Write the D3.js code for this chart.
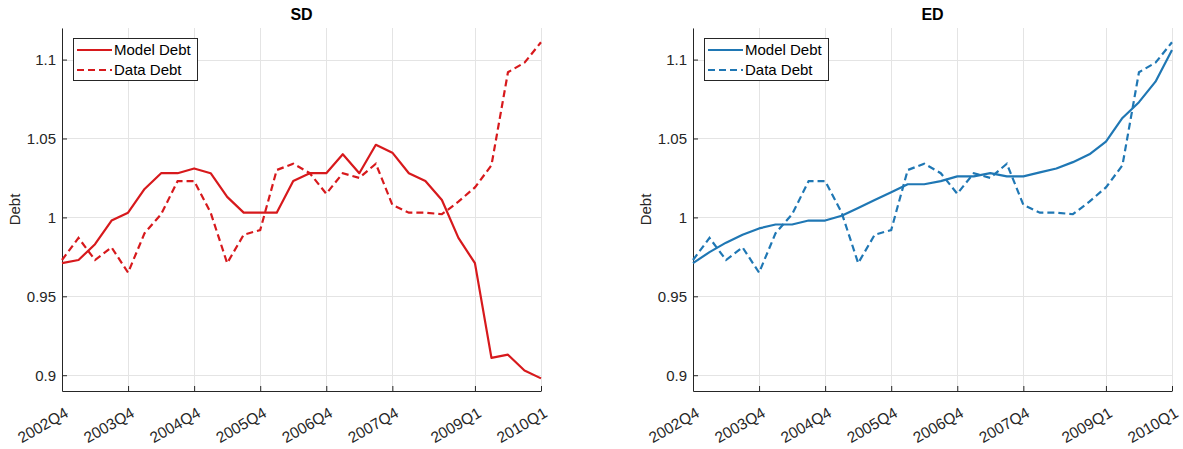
<!DOCTYPE html>
<html>
<head>
<meta charset="utf-8">
<script src="https://cdn.jsdelivr.net/npm/d3@7"></script>
<style>
  html, body { margin: 0; padding: 0; background: #fff; }
  svg { display: block; }
  text { font-family: "Liberation Sans", Arial, Helvetica, sans-serif; }
</style>
</head>
<body>
<svg id="chart" width="1183" height="449"></svg>
<script>
// Quarterly sample, 2002Q4 .. 2010Q1
const quarters = [
  "2002Q4","2003Q1","2003Q2","2003Q3","2003Q4","2004Q1","2004Q2","2004Q3",
  "2004Q4","2005Q1","2005Q2","2005Q3","2005Q4","2006Q1","2006Q2","2006Q3",
  "2006Q4","2007Q1","2007Q2","2007Q3","2007Q4","2008Q1","2008Q2","2008Q3",
  "2008Q4","2009Q1","2009Q2","2009Q3","2009Q4","2010Q1"
];

// Quarters that carry a tick label
const tickLabels = ["2002Q4","2003Q4","2004Q4","2005Q4","2006Q4","2007Q4","2009Q1","2010Q1"];
const yTicks = [0.9, 0.95, 1, 1.05, 1.1];

// Observed debt (same series in both panels)
const dataDebt = [
  0.973, 0.987, 0.973, 0.981, 0.965, 0.990, 1.002, 1.023, 1.023, 1.003,
  0.971, 0.989, 0.992, 1.030, 1.034, 1.028, 1.015, 1.028, 1.025, 1.034,
  1.008, 1.003, 1.003, 1.002, 1.010, 1.019, 1.033, 1.092, 1.098, 1.111
];

// Model-implied debt, SD economy
const modelDebtSD = [
  0.971, 0.973, 0.983, 0.998, 1.003, 1.018, 1.028, 1.028, 1.031, 1.028,
  1.013, 1.003, 1.003, 1.003, 1.023, 1.028, 1.028, 1.040, 1.028, 1.046,
  1.041, 1.028, 1.023, 1.011, 0.987, 0.971, 0.911, 0.913, 0.903, 0.898
];

// Model-implied debt, ED economy
const modelDebtED = [
  0.971, 0.978, 0.984, 0.989, 0.993, 0.9955, 0.9955, 0.998, 0.998, 1.001,
  1.006, 1.011, 1.016, 1.021, 1.021, 1.023, 1.026, 1.026, 1.028, 1.026,
  1.026, 1.0285, 1.031, 1.035, 1.040, 1.048, 1.063, 1.073, 1.086, 1.106
];

const panels = [
  { title: "SD", model: modelDebtSD, color: "#d7191c", left: 62 },
  { title: "ED", model: modelDebtED, color: "#1f77b4", left: 693 }
];

const svg = d3.select("#chart");
const plotW = 479, plotTop = 28, plotBottom = 391;
const axisColor = "#262626";
const gridColor = "#e4e4e4";

panels.forEach(p => {
  const g = svg.append("g");
  const x = d3.scalePoint().domain(quarters).range([p.left, p.left + plotW]);
  const y = d3.scaleLinear().domain([0.89, 1.12]).range([plotBottom, plotTop]);

  // grid
  g.append("g").selectAll("line").data(tickLabels).join("line")
    .attr("x1", d => Math.round(x(d)) + 0.5).attr("x2", d => Math.round(x(d)) + 0.5)
    .attr("y1", plotTop).attr("y2", plotBottom)
    .attr("stroke", gridColor).attr("stroke-width", 1);
  g.append("g").selectAll("line").data(yTicks).join("line")
    .attr("x1", p.left).attr("x2", p.left + plotW)
    .attr("y1", d => Math.round(y(d)) + 0.5).attr("y2", d => Math.round(y(d)) + 0.5)
    .attr("stroke", gridColor).attr("stroke-width", 1);

  // y axis (ticks point inward)
  const yAxis = d3.axisLeft(y).tickValues(yTicks).tickSizeInner(-5).tickSizeOuter(0)
    .tickFormat(d => String(d));
  const ya = g.append("g").attr("transform", `translate(${p.left},0)`).call(yAxis);
  ya.select(".domain").attr("stroke", axisColor);
  ya.selectAll(".tick line").attr("stroke", axisColor);
  ya.selectAll(".tick text").attr("fill", axisColor).attr("font-size", 15)
    .attr("font-family", "Liberation Sans, Arial, sans-serif").attr("x", -6);

  // x axis (ticks point inward, rotated labels)
  const xAxis = d3.axisBottom(x).tickValues(tickLabels).tickSizeInner(-5).tickSizeOuter(0);
  const xa = g.append("g").attr("transform", `translate(0,${plotBottom})`).call(xAxis);
  xa.select(".domain").attr("stroke", axisColor);
  xa.selectAll(".tick line").attr("stroke", axisColor);
  xa.selectAll(".tick text").attr("fill", axisColor).attr("font-size", 15.5)
    .attr("font-family", "Liberation Sans, Arial, sans-serif")
    .attr("text-anchor", "end").attr("dy", null).attr("y", 0)
    .attr("transform", "translate(7,25) rotate(-30)");

  // y label
  g.append("text").attr("transform", `translate(${p.left - 42},${(plotTop + plotBottom) / 2}) rotate(-90)`)
    .attr("text-anchor", "middle").attr("font-size", 15).attr("fill", axisColor)
    .text("Debt");

  // title
  g.append("text").attr("x", p.left + plotW / 2).attr("y", 20)
    .attr("text-anchor", "middle").attr("font-size", 16).attr("font-weight", "bold")
    .attr("fill", "#000").text(p.title);

  // series
  const line = d3.line().x((d, i) => x(quarters[i])).y(d => y(d));
  g.append("path").datum(p.model).attr("d", line)
    .attr("fill", "none").attr("stroke", p.color).attr("stroke-width", 2.2)
    .attr("stroke-linejoin", "round");
  g.append("path").datum(dataDebt).attr("d", line)
    .attr("fill", "none").attr("stroke", p.color).attr("stroke-width", 2.2)
    .attr("stroke-dasharray", "7,4");

  // legend
  const lx = p.left + 11, ly = 38;
  const lg = g.append("g");
  lg.append("rect").attr("x", lx + 0.5).attr("y", ly + 0.5).attr("width", 124).attr("height", 42)
    .attr("fill", "#fff").attr("stroke", axisColor).attr("stroke-width", 1);
  const entries = [{ label: "Model Debt", dash: null }, { label: "Data Debt", dash: "7,4" }];
  entries.forEach((e, j) => {
    const yy = ly + 12 + j * 20;
    lg.append("line").attr("x1", lx + 4).attr("x2", lx + 39).attr("y1", yy).attr("y2", yy)
      .attr("stroke", p.color).attr("stroke-width", 2.2)
      .attr("stroke-dasharray", e.dash);
    lg.append("text").attr("x", lx + 41).attr("y", yy + 5).attr("font-size", 15)
      .attr("fill", "#000").text(e.label);
  });
});
</script>
</body>
</html>
